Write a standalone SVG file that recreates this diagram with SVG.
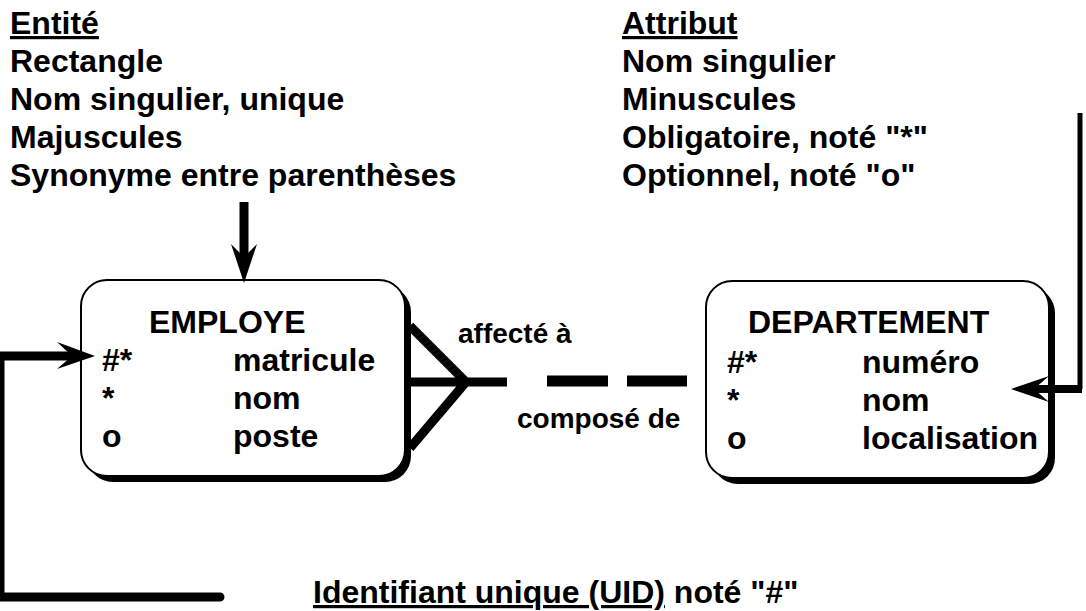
<svg xmlns="http://www.w3.org/2000/svg" width="1086" height="611" viewBox="0 0 1086 611">
  <style>
    text { font-family: "Liberation Sans", Arial, sans-serif; font-weight: bold; fill: #000; }
    .t { font-size: 32px; }
    .lbl { font-size: 28px; }
    .u { text-decoration: underline; }
    .box { fill: #fff; stroke: #000; stroke-width: 2; }
    .shadow { fill: #000; }
    .thick { fill: none; stroke: #000; stroke-width: 9; }
    .head { fill: #000; }
  </style>

  <rect width="1086" height="611" fill="#fff"/>

  <!-- notes: entity rules -->
  <g id="notes-entite">
    <text class="t u" x="10" y="34">Entité</text>
    <text class="t" x="10" y="72">Rectangle</text>
    <text class="t" x="10" y="110">Nom singulier, unique</text>
    <text class="t" x="10" y="148">Majuscules</text>
    <text class="t" x="10" y="186">Synonyme entre parenthèses</text>
  </g>

  <!-- notes: attribute rules -->
  <g id="notes-attribut">
    <text class="t u" x="622" y="34">Attribut</text>
    <text class="t" x="622" y="72">Nom singulier</text>
    <text class="t" x="622" y="110">Minuscules</text>
    <text class="t" x="622" y="148">Obligatoire, noté "*"</text>
    <text class="t" x="622" y="186">Optionnel, noté "o"</text>
  </g>

  <!-- note: unique identifier -->
  <g id="notes-uid">
    <text class="t" x="313" y="603"><tspan class="u">Identifiant unique (UID)</tspan> noté "#"</text>
  </g>

  <!-- entity EMPLOYE -->
  <g id="employe">
    <rect class="shadow" x="87" y="286" width="324" height="196" rx="26"/>
    <rect class="box" x="81" y="280" width="324" height="196" rx="26"/>
    <text class="t" x="149" y="333">EMPLOYE</text>
    <text class="t" x="102" y="371">#*</text>
    <text class="t" x="233" y="371">matricule</text>
    <text class="t" x="102" y="409">*</text>
    <text class="t" x="233" y="409">nom</text>
    <text class="t" x="102" y="447">o</text>
    <text class="t" x="233" y="447">poste</text>
  </g>

  <!-- entity DEPARTEMENT -->
  <g id="departement">
    <rect class="shadow" x="712" y="287" width="343" height="197" rx="26"/>
    <rect class="box" x="706" y="281" width="343" height="197" rx="26"/>
    <text class="t" x="748" y="333">DEPARTEMENT</text>
    <text class="t" x="727" y="373">#*</text>
    <text class="t" x="862" y="373">numéro</text>
    <text class="t" x="727" y="411">*</text>
    <text class="t" x="862" y="411">nom</text>
    <text class="t" x="727" y="449">o</text>
    <text class="t" x="862" y="449">localisation</text>
  </g>

  <!-- relationship labels -->
  <g id="relation-labels">
    <text class="lbl" x="458" y="343">affecté à</text>
    <text class="lbl" x="517" y="428">composé de</text>
  </g>

  <g id="connectors">
    <!-- note arrow into EMPLOYE -->
    <line class="thick" x1="244" y1="202" x2="244" y2="258"/>
    <path class="head" d="M244,283 L231,244 L244,257 L257,244 Z"/>

    <!-- UID note to matricule -->
    <path class="thick" d="M220,597 L0,597 L0,356 L74,356" stroke-linecap="round"/>
    <path class="head" d="M95,356 L57,342 L72,356 L57,369 Z"/>

    <!-- attribute note to DEPARTEMENT -->
    <path fill="none" stroke="#000" stroke-width="5" d="M1080,113 L1080,389"/>
    <line x1="1082" y1="389" x2="1032" y2="389" stroke="#000" stroke-width="8"/>
    <path class="head" d="M1011,389 L1049,376 L1034,389 L1049,402 Z"/>

    <!-- crow's foot on EMPLOYE, many side -->
    <path class="thick" d="M410,326 L466,382 M410,448 L466,382 M408,382 L507,382"/>
    <!-- optional half, dashed -->
    <line x1="547" y1="381" x2="608" y2="381" stroke="#000" stroke-width="11"/>
    <line x1="627" y1="381" x2="687" y2="381" stroke="#000" stroke-width="11"/>
  </g>
</svg>
